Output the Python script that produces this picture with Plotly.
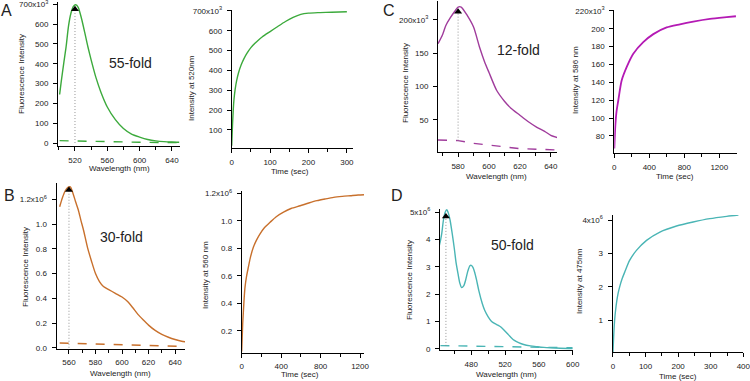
import plotly.graph_objects as go

W, H = 750, 381

# ---------------- data ----------------
# Panel A (emission spectrum, 520 nm peak)
a_wl = [501, 503, 506, 509, 512, 515, 518, 521, 524, 528, 532, 536, 540, 546, 552, 560, 570, 580, 590, 600, 610, 620, 630, 640, 649]
a_int = [245, 310, 400, 485, 590, 655, 690, 698, 685, 630, 560, 486, 420, 330, 258, 182, 118, 73, 45, 30, 18, 11, 7, 5, 4]
a_bg_wl = [501, 520, 560, 600, 649]
a_bg = [12, 10, 7, 4, 2]
a_time = [0, 2, 4, 6, 9, 13, 18, 25, 32, 40, 50, 65, 80, 100, 120, 140, 160, 180, 200, 230, 260, 300]
a_kin = [20, 120, 200, 255, 305, 350, 390, 430, 460, 487, 515, 545, 570, 596, 622, 647, 668, 683, 689, 692, 694, 696]

# Panel B (560 nm peak)
b_wl = [553, 555, 557, 559, 561, 563, 565, 567, 569, 571, 574, 577, 580, 583, 586, 590, 595, 600, 604, 608, 612, 616, 620, 625, 630, 635, 640, 645, 648]
b_int = [1.14, 1.21, 1.265, 1.295, 1.30, 1.25, 1.18, 1.116, 1.03, 0.95, 0.81, 0.70, 0.60, 0.535, 0.495, 0.47, 0.44, 0.41, 0.375, 0.325, 0.27, 0.225, 0.183, 0.14, 0.108, 0.085, 0.067, 0.053, 0.048]
b_bg_wl = [553, 580, 620, 648]
b_bg = [0.038, 0.03, 0.015, 0.01]
b_time = [0, 5, 10, 17, 25, 34, 50, 68, 90, 119, 150, 186, 230, 288, 350, 424, 500, 593, 680, 763, 850, 932, 1020, 1102, 1180, 1240]
b_kin = [0.05, 0.15, 0.25, 0.34, 0.44, 0.52, 0.6, 0.665, 0.74, 0.81, 0.86, 0.906, 0.95, 0.99, 1.03, 1.063, 1.09, 1.11, 1.13, 1.147, 1.16, 1.171, 1.178, 1.183, 1.188, 1.19]

# Panel C (580 nm peak)
c_wl = [567, 570, 572, 575, 578, 580, 582, 586, 590, 594, 597, 600, 605, 610, 614, 620, 625, 631, 636, 640, 645]
c_int = [164, 178, 191, 203, 213, 219, 219, 206, 189, 158, 138, 121, 94, 78, 68, 57, 48, 39, 33, 27, 23]
c_bg_wl = [567, 580, 590, 600, 620, 645]
c_bg = [20, 19, 15, 12, 7, 5]
c_time = [0, 5, 12, 25, 46, 84, 141, 217, 331, 446, 598, 750, 903, 1093, 1284, 1390]
c_kin = [66, 78, 92, 107, 120, 142, 157, 172, 185, 194, 201.5, 205, 208, 211, 213, 214]

# Panel D (450 nm peak)
d_wl = [442, 443.5, 445, 447, 449, 451, 453, 455, 457.5, 460, 462, 464.3, 466.5, 468.6, 471, 473.3, 476, 478.4, 480, 482, 484, 486.3, 489, 493, 496, 500, 504, 508, 512, 515, 519, 523, 527, 531, 536, 542, 550, 558, 566, 574, 585, 600]
d_int = [3.75, 3.95, 4.2, 4.69, 4.98, 5.08, 4.95, 4.69, 4.2, 3.65, 3.15, 2.75, 2.4, 2.24, 2.3, 2.51, 2.85, 3.04, 3.05, 2.98, 2.8, 2.51, 2.12, 1.66, 1.4, 1.17, 1.0, 0.92, 0.86, 0.8, 0.68, 0.55, 0.42, 0.31, 0.23, 0.16, 0.11, 0.08, 0.055, 0.04, 0.025, 0.015]
d_bg_wl = [443.5, 480, 520, 560, 600]
d_bg = [0.12, 0.1, 0.08, 0.06, 0.04]
d_time = [0, 2, 5, 8, 12, 16, 20.5, 28, 36, 51, 72, 103, 144, 195, 246, 297, 349, 385]
d_kin = [0.05, 0.5, 1.0, 1.3, 1.6, 1.82, 2.0, 2.24, 2.44, 2.79, 3.09, 3.39, 3.64, 3.82, 3.94, 4.04, 4.11, 4.15]

# Peak markers (wavelength, marker height, background level at peak)
peak_wl = [520, 560, 580, 450]
peak_y = [675, 1.275, 212, 4.84]
peak_base = [0, 0.0, 19, 0.11]

# Labels
panel_letters = ["A", "B", "C", "D"]
fold_text = ["55-fold", "30-fold", "12-fold", "50-fold"]
kin_titles = ["Intensity at 520nm", "Intensity at 560 nm", "Intensity at 586 nm", "Intensity at 475nm"]

# Tick labels
a_sy_vals = [0, 100, 200, 300, 400, 500, 600, 700]
a_sy_text = ["0", "100", "200", "300", "400", "500", "600", "700x10<sup>3</sup>"]
a_ky_vals = [100, 200, 300, 400, 500, 600, 700]
a_ky_text = ["100", "200", "300", "400", "500", "600", "700x10<sup>3</sup>"]
b_sy_vals = [0, 0.2, 0.4, 0.6, 0.8, 1.0, 1.2]
b_sy_text = ["0.0", "0.2", "0.4", "0.6", "0.8", "1.0", "1.2x10<sup>6</sup>"]
b_ky_vals = [0.2, 0.4, 0.6, 0.8, 1.0, 1.2]
b_ky_text = ["0.2", "0.4", "0.6", "0.8", "1.0", "1.2x10<sup>6</sup>"]
c_sy_vals = [50, 100, 150, 200]
c_sy_text = ["50", "100", "150", "200x10<sup>3</sup>"]
c_ky_vals = [80, 100, 120, 140, 160, 180, 200, 220]
c_ky_text = ["80", "100", "120", "140", "160", "180", "200", "220x10<sup>3</sup>"]
d_sy_vals = [0, 1, 2, 3, 4, 5]
d_sy_text = ["0", "1", "2", "3", "4", "5x10<sup>6</sup>"]
d_ky_vals = [1, 2, 3, 4]
d_ky_text = ["1", "2", "3", "4x10<sup>6</sup>"]

# ---------------- figure ----------------
FONT = "Liberation Sans, Arial, sans-serif"
TXT = "#222222"
fig = go.Figure()
layout = {}
annotations = []


def px_x(x):
    return x / W


def px_y(y):
    return 1 - y / H


def add_axes(idx, box, xr, yr, xmaj, xmin, yvals, ytext):
    x0, x1, y0, y1 = box
    xa = "xaxis" if idx == 1 else f"xaxis{idx}"
    ya = "yaxis" if idx == 1 else f"yaxis{idx}"
    sx = "x" if idx == 1 else f"x{idx}"
    sy = "y" if idx == 1 else f"y{idx}"
    common = dict(showline=True, linecolor="black", linewidth=1, ticks="outside",
                  ticklen=4, tickwidth=1, tickcolor="black", showgrid=False,
                  zeroline=False, tickfont=dict(size=8, color=TXT, family=FONT),
                  fixedrange=True, automargin=False, ticklabeloverflow="allow")
    layout[xa] = dict(domain=[px_x(x0), px_x(x1)], range=xr, anchor=sy,
                      tickmode="array", tickvals=xmaj, ticktext=[str(v) for v in xmaj],
                      minor=dict(tickmode="array", tickvals=xmin, ticks="outside",
                                 ticklen=3, tickcolor="black", tickwidth=1),
                      ticklabelstandoff=2, **common)
    layout[ya] = dict(domain=[px_y(y1), px_y(y0)], range=yr, anchor=sx,
                      tickmode="array", tickvals=yvals, ticktext=ytext,
                      ticklabelstandoff=3, **common)
    return sx, sy


def line(sx, sy, x, y, color, dash="solid", width=1.4, shape="spline"):
    fig.add_trace(go.Scatter(x=x, y=y, xaxis=sx, yaxis=sy, mode="lines",
                             line=dict(color=color, width=width, dash=dash, shape=shape,
                                       smoothing=0.7 if shape == "spline" else None),
                             showlegend=False, hoverinfo="skip"))


def peak(sx, sy, i):
    fig.add_trace(go.Scatter(x=[peak_wl[i], peak_wl[i]], y=[peak_base[i], peak_y[i]],
                             xaxis=sx, yaxis=sy, mode="lines",
                             line=dict(color="#8a8a8a", width=0.9, dash="1px,2px"),
                             showlegend=False, hoverinfo="skip"))
    fig.add_trace(go.Scatter(x=[peak_wl[i]], y=[peak_y[i]], xaxis=sx, yaxis=sy,
                             mode="markers", marker=dict(symbol="triangle-up", size=7, color="black"),
                             showlegend=False, hoverinfo="skip"))


def text(x, y, s, size=8, angle=0):
    annotations.append(dict(x=px_x(x), y=px_y(y), xref="paper", yref="paper", text=s,
                            showarrow=False, textangle=angle, xanchor="center", yanchor="middle",
                            font=dict(size=size, color=TXT, family=FONT)))


GREEN = "#3caa3c"
ORANGE = "#c8702c"
PURPLE = "#a03c9c"
MAGENTA = "#b41ab4"
TEAL = "#4ab5b5"

# A spectrum
sx, sy = add_axes(1, (58, 180, 2, 146), [499, 650], [-15, 712],
                  [520, 560, 600, 640], [500, 540, 580, 620], a_sy_vals, a_sy_text)
line(sx, sy, a_bg_wl, a_bg, GREEN, dash="dash", shape="linear")
line(sx, sy, a_wl, a_int, GREEN)
peak(sx, sy, 0)
# A kinetics
sx, sy = add_axes(2, (231.7, 353, 10, 148), [0, 316], [9, 705],
                  [0, 100, 200, 300], [50, 150, 250], a_ky_vals, a_ky_text)
line(sx, sy, a_time, a_kin, GREEN)

# B spectrum
sx, sy = add_axes(3, (56.5, 185, 183, 348.5), [550.6, 647.5], [-0.006, 1.332],
                  [560, 580, 600, 620, 640], [570, 590, 610, 630], b_sy_vals, b_sy_text)
line(sx, sy, b_bg_wl, b_bg, ORANGE, dash="dash", shape="linear")
line(sx, sy, b_wl, b_int, ORANGE)
peak(sx, sy, 1)
# B kinetics
sx, sy = add_axes(4, (241.7, 364, 191.3, 352.7), [0, 1240], [0.042, 1.215],
                  [0, 400, 800, 1200], [200, 600, 1000], b_ky_vals, b_ky_text)
line(sx, sy, b_time, b_kin, ORANGE)

# C spectrum
sx, sy = add_axes(5, (438, 557, 1, 152), [567, 644], [2, 228],
                  [580, 600, 620, 640], [570, 590, 610, 630], c_sy_vals, c_sy_text)
line(sx, sy, c_bg_wl, c_bg, PURPLE, dash="dash", shape="linear")
line(sx, sy, c_wl, c_int, PURPLE)
peak(sx, sy, 2)
# C kinetics
sx, sy = add_axes(6, (614.3, 736.8, 10, 153.3), [0, 1400], [60.6, 221],
                  [0, 400, 800, 1200], [200, 600, 1000], c_ky_vals, c_ky_text)
line(sx, sy, c_time, c_kin, MAGENTA, width=1.8)

# D spectrum
sx, sy = add_axes(7, (440, 572.7, 209, 350), [443, 600], [-0.04, 5.11],
                  [480, 520, 560, 600], [460, 500, 540, 580], d_sy_vals, d_sy_text)
line(sx, sy, d_bg_wl, d_bg, TEAL, dash="dash", shape="linear")
line(sx, sy, d_wl, d_int, TEAL)
peak(sx, sy, 3)
# D kinetics
sx, sy = add_axes(8, (612.5, 743.3, 215, 352.3), [-1.5, 400], [0.04, 4.15],
                  [0, 100, 200, 300, 400], [50, 150, 250, 350], d_ky_vals, d_ky_text)
line(sx, sy, d_time, d_kin, TEAL)

# panel letters
text(6, 11, panel_letters[0], size=16)
text(9, 195, panel_letters[1], size=16)
text(389, 11, panel_letters[2], size=16)
text(397, 195, panel_letters[3], size=16)

# fold labels
text(130, 63, fold_text[0], size=14)
text(122, 237, fold_text[1], size=14)
text(518, 50, fold_text[2], size=14)
text(512, 245, fold_text[3], size=14)

# y titles
text(21, 74, "Fluorescence Intensity", angle=-90)
text(191, 88, kin_titles[0], angle=-90)
text(25, 267, "Fluorescence Intensity", angle=-90)
text(205, 275, kin_titles[1], angle=-90)
text(405, 83, "Fluorescence Intensity", angle=-90)
text(575, 80, kin_titles[2], angle=-90)
text(409, 280, "Fluorescence Intensity", angle=-90)
text(579, 281, kin_titles[3], angle=-90)

# x titles
text(119, 169, "Wavelength (nm)")
text(290, 171, "Time (sec)")
text(120, 373, "Wavelength (nm)")
text(300, 374, "Time (sec)")
text(497, 176, "Wavelength (nm)")
text(675, 176, "Time (sec)")
text(506, 374, "Wavelength (nm)")
text(678, 376, "Time (sec)")

fig.update_layout(width=W, height=H, margin=dict(l=0, r=0, t=0, b=0),
                  paper_bgcolor="white", plot_bgcolor="white",
                  annotations=annotations, showlegend=False, **layout)

fig.write_html("out.html", config={"displayModeBar": False},
               post_script="document.body.style.margin='0';document.body.style.padding='0';")
